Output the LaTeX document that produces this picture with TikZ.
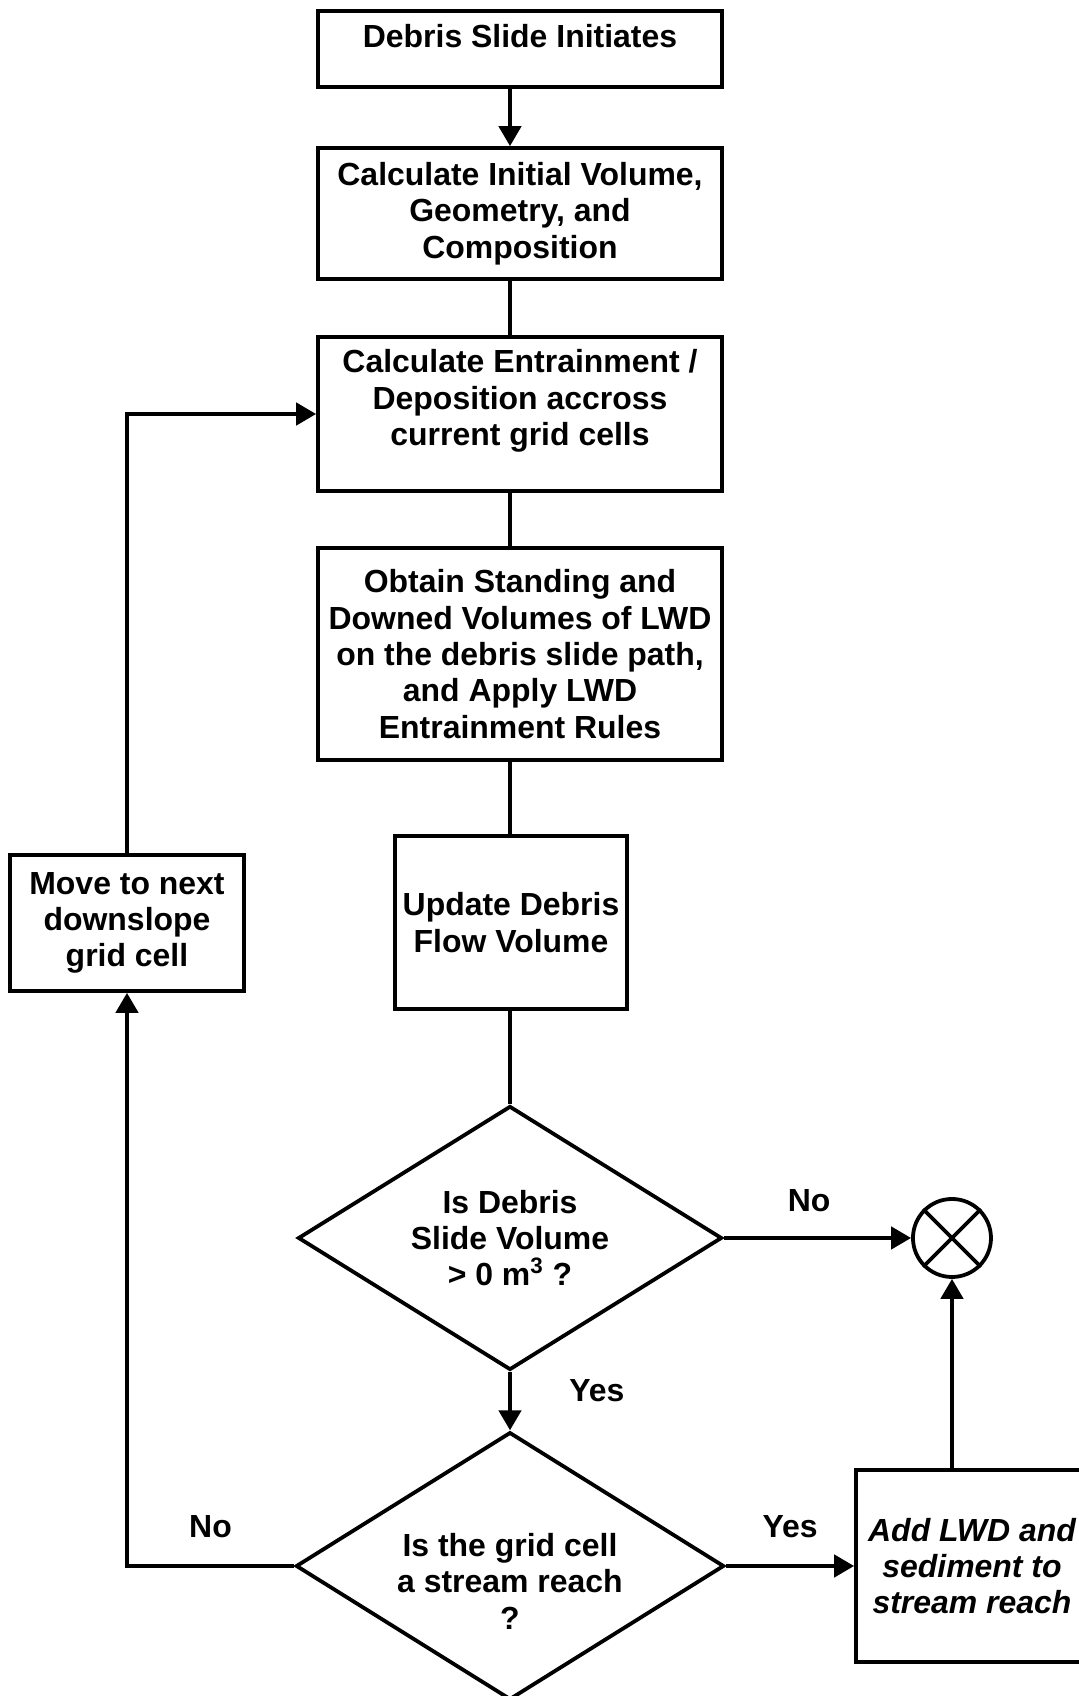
\documentclass[tikz,border=0pt]{standalone}
\usepackage{fontspec}
\setmainfont{Liberation Sans}
\usepackage{tikz}
\usetikzlibrary{arrows.meta,shapes.geometric}

\begin{document}
\begin{tikzpicture}[>={Triangle[length=3.5mm,width=3.9mm]},line width=1.9pt,
  font=\bfseries\fontsize{16}{18.2}\selectfont,
  box/.style={draw,align=center,inner sep=0pt},
  note/.style={box,font=\bfseries\itshape\fontsize{16}{18.2}\selectfont},
  decision/.style={draw,diamond,aspect=1.6,align=center,inner sep=0pt,minimum width=7.462cm,minimum height=4.646cm},
  lbl/.style={inner sep=0pt}]
\useasboundingbox (0,0) rectangle (18.973,29.850);
% main column
\node[box,minimum width=7.110cm,minimum height=1.338cm,text depth=0.47cm] (start) at (9.152,28.987) {Debris Slide Initiates};
\node[box,minimum width=7.110cm,minimum height=2.306cm] (initvol) at (9.152,26.092) {Calculate Initial Volume,\\Geometry, and\\Composition};
\node[box,minimum width=7.110cm,minimum height=2.710cm,text depth=0.58cm] (entrain) at (9.152,22.563) {Calculate Entrainment /\\Deposition accross\\current grid cells};
\node[box,minimum width=7.110cm,minimum height=3.731cm] (lwd) at (9.152,18.339) {Obtain Standing and\\Downed Volumes of LWD\\on the debris slide path,\\and Apply LWD\\Entrainment Rules};
\node[box,minimum width=4.083cm,minimum height=3.045cm] (update) at (8.994,13.614) {Update Debris\\Flow Volume};
\node[box,minimum width=4.118cm,minimum height=2.394cm] (move) at (2.235,13.605) {Move to next\\downslope\\grid cell};
\node[decision] (volcheck) at (8.976,8.061) {Is Debris\\Slide Volume\\> 0 m\textsuperscript{3} ?};
\node[decision] (streamcheck) at (8.976,2.288) {Is the grid cell\rule{0pt}{0.95cm}\\a stream reach\\?};
\node[note,minimum width=4.083cm,minimum height=3.379cm] (addlwd) at (17.107,2.288) {Add LWD and\\sediment to\\stream reach};
\node[draw,circle,minimum size=1.373cm,inner sep=0pt] (stop) at (16.755,8.061) {};
\draw (stop.north west) -- (stop.south east) (stop.north east) -- (stop.south west);
% connectors
\draw[->] (start.south -| volcheck.north) -- (initvol.north -| volcheck.north);
\draw (initvol.south -| volcheck.north) -- (entrain.north -| volcheck.north);
\draw (entrain.south -| volcheck.north) -- (lwd.north -| volcheck.north);
\draw (lwd.south -| volcheck.north) -- (update.north -| volcheck.north);
\draw (update.south -| volcheck.north) -- (volcheck.north);
\draw[->] (volcheck.south) -- (streamcheck.north) node[lbl,pos=.33,xshift=1.53cm] (yes1) {Yes};
\draw[->] (volcheck.east) -- (stop.west) node[lbl,pos=.455,yshift=6.5mm] (no1) {No};
\draw[->] (streamcheck.west) -| (move.south) node[lbl,pos=.25,yshift=6.9mm] (no2) {No};
\draw[->] (streamcheck.east) -- (addlwd.west) node[lbl,pos=.5,yshift=6.9mm] (yes2) {Yes};
\draw[->] (addlwd.north -| stop.south) -- (stop.south);
\draw[->] (move.north) |- (entrain.west);
\end{tikzpicture}
\end{document}
